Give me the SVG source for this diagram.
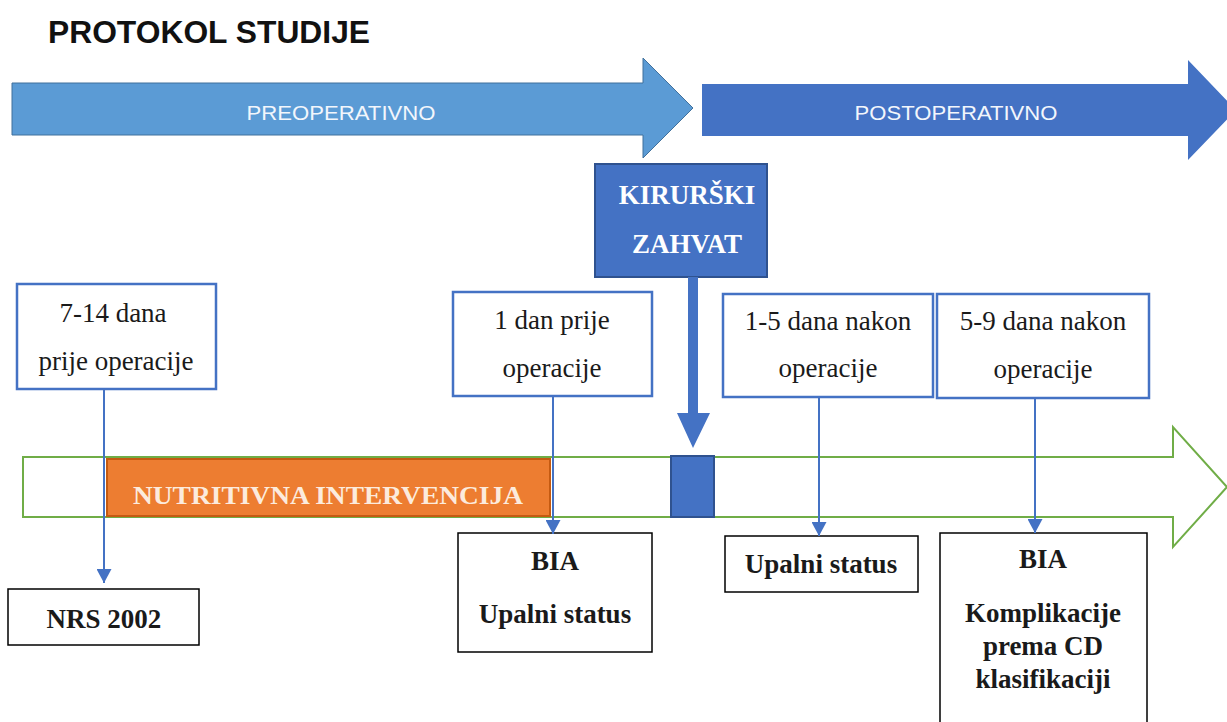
<svg xmlns="http://www.w3.org/2000/svg" width="1227" height="722" viewBox="0 0 1227 722">
<defs>
<style>
.t{font-family:"Liberation Serif","Times New Roman",serif;font-size:27px;fill:#1a1a1a;text-anchor:middle}
.b{font-weight:bold}
.bx{fill:#fff;stroke:#4472C4;stroke-width:2.5}
.kx{fill:#fff;stroke:#000;stroke-width:1.5}
.hd{font-family:"Liberation Sans",Arial,sans-serif;font-size:20px;fill:#f2f6fc;text-anchor:middle}
.cn{stroke:#4472C4;stroke-width:2;fill:none;marker-end:url(#ah)}
</style>
<marker id="ah" markerWidth="14" markerHeight="15" refX="14" refY="7.5" orient="auto" markerUnits="userSpaceOnUse" viewBox="0 0 14 15">
<path d="M0,0 L14,7.5 L0,15 Z" fill="#4472C4"/>
</marker>
</defs>
<rect width="1227" height="722" fill="#fff"/>
<text x="48" y="43" font-family="Liberation Sans,Arial,sans-serif" font-weight="bold" font-size="32" fill="#111" textLength="322" lengthAdjust="spacingAndGlyphs">PROTOKOL STUDIJE</text>
<g id="preop">
<polygon points="12,83 643,83 643,58 693,108 643,158 643,135 12,135" fill="#5B9BD5" stroke="#41719C" stroke-width="1"/>
<text class="hd" x="341" y="120" textLength="189" lengthAdjust="spacingAndGlyphs">PREOPERATIVNO</text>
</g>
<g id="postop">
<polygon points="702,84 1188,84 1188,60 1236,110 1188,160 1188,136 702,136" fill="#4472C4"/>
<text class="hd" x="956" y="120" textLength="203" lengthAdjust="spacingAndGlyphs">POSTOPERATIVNO</text>
</g>
<g id="timeline">
<polygon points="23,457 1173,457 1173,427 1227,487 1173,547 1173,517 23,517 23,457" fill="#fff" stroke="#70AD47" stroke-width="2"/>
</g>
<g id="nutritivna">
<rect x="107" y="459" width="443" height="57" fill="#ED7D31" stroke="#C55A11" stroke-width="2"/>
<text x="328" y="504" font-family="Liberation Serif,Times New Roman,serif" font-weight="bold" font-size="25" fill="#FCEBDD" text-anchor="middle" textLength="390" lengthAdjust="spacingAndGlyphs">NUTRITIVNA INTERVENCIJA</text>
</g>
<g id="kirurski">
<rect x="595" y="164" width="172" height="113" fill="#4472C4" stroke="#2F528F" stroke-width="2"/>
<text class="t b" x="687" y="204" style="fill:#fff">KIRURŠKI</text>
<text class="t b" x="687" y="253" style="fill:#fff">ZAHVAT</text>
<polygon points="688,277 698,277 698,413 710,413 693,448 677,413 688,413" fill="#4472C4"/>
</g>
<g id="operacija">
<rect x="671" y="456" width="43" height="61" fill="#4472C4" stroke="#2F528F" stroke-width="2"/>
</g>
<g id="n714">
<rect class="bx" x="17" y="284" width="199" height="105"/>
<text class="t" x="113" y="322">7-14 dana</text>
<text class="t" x="116" y="370">prije operacije</text>
</g>
<g id="nrs">
<rect class="kx" x="8" y="589" width="191" height="56"/>
<text class="t b" x="104" y="628">NRS 2002</text>
</g>
<g id="n1dan">
<rect class="bx" x="453" y="292" width="199" height="104"/>
<text class="t" x="552" y="329">1 dan prije</text>
<text class="t" x="552" y="377">operacije</text>
</g>
<g id="bia1">
<rect class="kx" x="458" y="533" width="194" height="119"/>
<text class="t b" x="555" y="570">BIA</text>
<text class="t b" x="555" y="623">Upalni status</text>
</g>
<g id="n15">
<rect class="bx" x="723" y="294" width="210" height="103"/>
<text class="t" x="828" y="330">1-5 dana nakon</text>
<text class="t" x="828" y="377">operacije</text>
</g>
<g id="upalni">
<rect class="kx" x="725" y="536" width="193" height="56"/>
<text class="t b" x="821" y="573">Upalni status</text>
</g>
<g id="n59">
<rect class="bx" x="937" y="294" width="212" height="104"/>
<text class="t" x="1043" y="330">5-9 dana nakon</text>
<text class="t" x="1043" y="378">operacije</text>
</g>
<g id="bia2">
<rect class="kx" x="940" y="533" width="207" height="200"/>
<text class="t b" x="1043" y="568">BIA</text>
<text class="t b" x="1043" y="622">Komplikacije</text>
<text class="t b" x="1043" y="655">prema CD</text>
<text class="t b" x="1043" y="688">klasifikaciji</text>
</g>
<g id="connectors">
<path class="cn" d="M104,389 V583"/>
<path class="cn" d="M553,396 V534"/>
<path class="cn" d="M819,397 V536"/>
<path class="cn" d="M1035,398 V533"/>
</g>
</svg>
